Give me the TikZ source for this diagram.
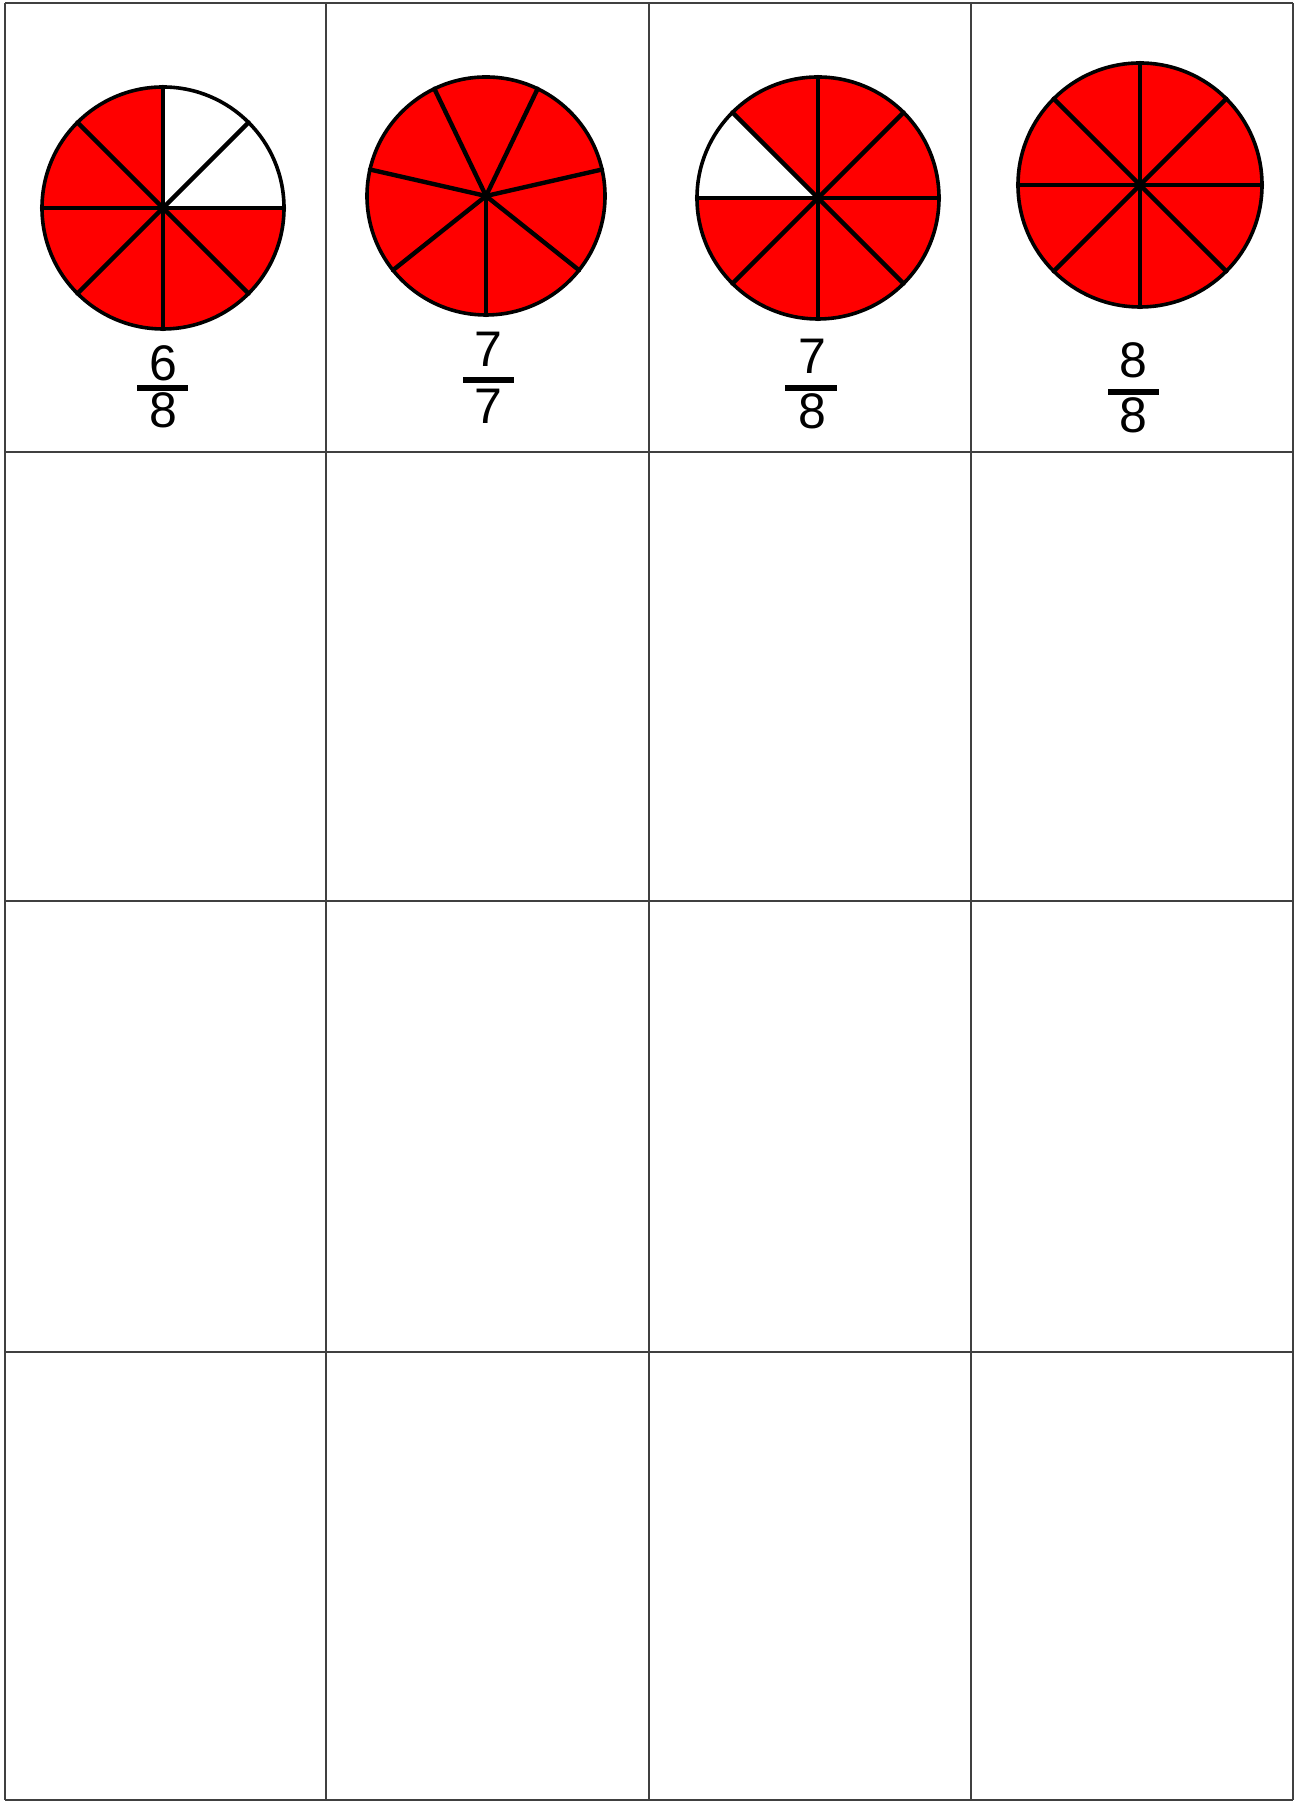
\documentclass[tikz,border=0pt]{standalone}
\usepackage{fontspec}
\setmainfont{Liberation Sans}
\begin{document}
\begin{tikzpicture}[x=1pt,y=1pt,
  gridline/.style={draw=black!75,line width=2.6pt},
  rim/.style={draw=black,line width=3.6pt},
  spoke/.style={draw=black,line width=4.4pt,line cap=round},
  digit/.style={inner sep=0pt,font=\fontsize{50}{50}\selectfont},
  fracbar/.style={draw=black,line width=5.5pt}]
\useasboundingbox (0,0) rectangle (1297,1802);
\fill[white] (0,0) rectangle (1297,1802);
% grid
\foreach \x in {5,326,649,971,1293} \draw[gridline] (\x,2) -- (\x,1799);
\foreach \y in {2,450,901,1350,1799} \draw[gridline] (5,\y) -- (1293,\y);

% circle 1: 6/8, white 0-90
\begin{scope}[shift={(163,1594)}]
  \foreach \a in {90,135,...,315}
    \fill[red] (0,0) -- (\a:121) arc[start angle=\a,end angle=\a+45,radius=121] -- cycle;
  \foreach \a in {0,45,...,315} \draw[spoke] (0,0) -- (\a:121);
  \draw[rim] (0,0) circle[radius=121];
\end{scope}
\node[digit] (n1) at (163,1439) {6};
\node[digit] (d1) at (163,1392) {8};
\draw[fracbar] (137,1414) -- (188,1414);

% circle 2: 7/7
\begin{scope}[shift={(486,1606)}]
  \fill[red] (0,0) circle[radius=119];
  \foreach \k in {0,...,6} \draw[spoke] (0,0) -- ({270+\k*360/7}:119);
  \draw[rim] (0,0) circle[radius=119];
\end{scope}
\node[digit] (n2) at (488,1453) {7};
\node[digit] (d2) at (488,1396) {7};
\draw[fracbar] (463,1422) -- (514,1422);

% circle 3: 7/8, white 135-180
\begin{scope}[shift={(818,1604)}]
  \foreach \a in {0,45,90,180,225,270,315}
    \fill[red] (0,0) -- (\a:121) arc[start angle=\a,end angle=\a+45,radius=121] -- cycle;
  \foreach \a in {0,45,...,315} \draw[spoke] (0,0) -- (\a:121);
  \draw[rim] (0,0) circle[radius=121];
\end{scope}
\node[digit] (n3) at (812,1445.5) {7};
\node[digit] (d3) at (812,1390.5) {8};
\draw[fracbar] (785,1414) -- (837,1414);

% circle 4: 8/8
\begin{scope}[shift={(1140,1617)}]
  \fill[red] (0,0) circle[radius=122];
  \foreach \a in {0,45,...,315} \draw[spoke] (0,0) -- (\a:122);
  \draw[rim] (0,0) circle[radius=122];
\end{scope}
\node[digit] (n4) at (1133,1442) {8};
\node[digit] (d4) at (1133,1386.5) {8};
\draw[fracbar] (1108,1410) -- (1159,1410);
\end{tikzpicture}
\end{document}
